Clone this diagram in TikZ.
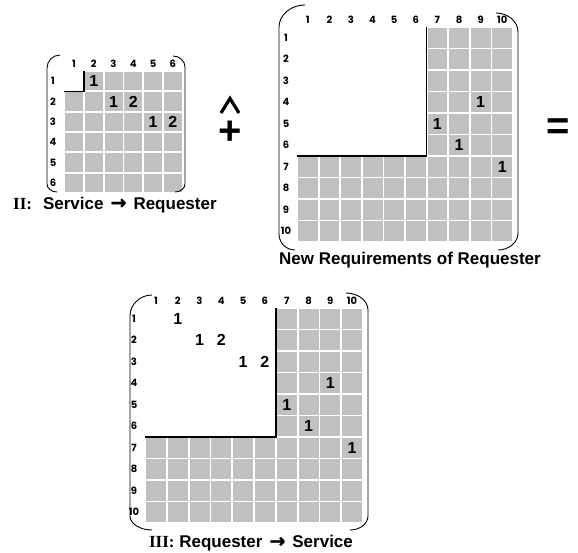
\documentclass[tikz,border=0pt]{standalone}
\usepackage{fontspec}
\setmainfont{Liberation Sans}
\newfontfamily\serifb{Liberation Serif}
\newfontfamily\lblf{Poppins}
\newfontfamily\arrf{DejaVu Sans}[FakeBold=1.6]
\definecolor{cellgray}{RGB}{192,192,192}
\newcommand\bigarr{\hspace{7pt}{\arrf\fontsize{19}{19}\selectfont →}\hspace{7pt}}
\tikzset{
  lbl/.style={font=\lblf\bfseries\fontsize{10}{10}\selectfont, inner sep=0pt},
  num/.style={font=\bfseries\fontsize{16}{16}\selectfont, inner sep=0pt},
  captxt/.style={font=\bfseries\fontsize{17}{17}\selectfont, inner sep=0pt, anchor=base},
  optxt/.style={font=\bfseries\fontsize{40}{40}\selectfont, inner sep=0pt, anchor=base},
  hatline/.style={draw=black, line width=3.2pt, line join=miter},
  brk/.style={draw=black, line width=0.9pt},
  lline/.style={draw=black, line width=1.5pt},
}
% #1 name, #2 x0, #3 y0, #4 n, #5 cw, #6 ch, #7 white block
\newcommand\mymat[7]{%
  \foreach \i in {1,...,#4}{%
    \foreach \j in {1,...,#4}{%
      \pgfmathtruncatemacro\inw{and(\i<=#7,\j<=#7)}%
      \ifnum\inw=0
        \fill[cellgray] ({#2+(\j-1)*#5+0.9},{#3+(\i-1)*#6+0.9}) rectangle ({#2+\j*#5-0.9},{#3+\i*#6-0.9});
      \fi
    }%
    \node[lbl] (#1c\i) at ({#2+(\i-0.5)*#5},{#3-7}) {\i};
    \node[lbl] (#1r\i) at ({#2-11},{#3+(\i-0.5)*#6}) {\i};
  }%
  \draw[lline] ({#2},{#3+#7*#6}) -- ({#2+#7*#5},{#3+#7*#6}) -- ({#2+#7*#5},{#3});
}
% name, x0, y0, cw, ch, row, col, text
\newcommand\cnum[8]{\node[num] (#1) at ({#2+(#7-0.5)*#4},{#3+(#6-0.5)*#5}) {#8};}
% x, ytop, ybot, rxt, ryt, rxb, ryb
\newcommand\lbrk[7]{\draw[brk] ({#1+#4},{#2}) .. controls ({#1+0.45*#4},{#2}) and ({#1},{#2+0.45*#5}) .. ({#1},{#2+#5}) -- ({#1},{#3-#7}) .. controls ({#1},{#3-0.45*#7}) and ({#1+0.45*#6},{#3}) .. ({#1+#6},{#3});}
\newcommand\rbrk[7]{\draw[brk] ({#1-#4},{#2}) .. controls ({#1-0.45*#4},{#2}) and ({#1},{#2+0.45*#5}) .. ({#1},{#2+#5}) -- ({#1},{#3-#7}) .. controls ({#1},{#3-0.45*#7}) and ({#1-0.45*#6},{#3}) .. ({#1-#6},{#3});}
\begin{document}
\begin{tikzpicture}[x=1pt,y=-1pt]
\useasboundingbox (0,0) rectangle (578,552);
\fill[white] (0,0) rectangle (578,552);

% ---------- Matrix II (small) ----------
\mymat{S}{64}{71}{6}{19.8}{20.33}{1}
\cnum{S12}{64}{71}{19.8}{20.33}{1}{2}{1}
\cnum{S23}{64}{71}{19.8}{20.33}{2}{3}{1}
\cnum{S24}{64}{71}{19.8}{20.33}{2}{4}{2}
\cnum{S35}{64}{71}{19.8}{20.33}{3}{5}{1}
\cnum{S36}{64}{71}{19.8}{20.33}{3}{6}{2}
\lbrk{47}{55}{192}{13}{13}{10}{8}
\rbrk{185}{56}{192}{12}{11}{10}{8}
\node[captxt, anchor=base west] (capS) at (13,209) {{\serifb II:}\hspace{11pt}Service\bigarr Requester};

% ---------- operators ----------
\coordinate (hatL) at (221,113);
\coordinate (hatT) at (230,98.5);
\coordinate (hatR) at (239,113);
\draw[hatline] (hatL) -- (hatT) -- (hatR);
\node[optxt] (plus) at (230,144) {+};
\node[optxt] (eq) at (558,139) {=};

% ---------- New requirements ----------
\mymat{N}{297}{27}{10}{21.6}{21.5}{6}
\cnum{N49}{297}{27}{21.6}{21.5}{4}{9}{1}
\cnum{N57}{297}{27}{21.6}{21.5}{5}{7}{1}
\cnum{N68}{297}{27}{21.6}{21.5}{6}{8}{1}
\cnum{N710}{297}{27}{21.6}{21.5}{7}{10}{1}
\lbrk{279}{5}{250}{26}{22}{16}{16}
\rbrk{518}{13}{250}{22}{19}{20}{17}
\node[captxt] (capN) at (410,264) {New Requirements of Requester};

% ---------- Matrix III ----------
\mymat{R}{145}{308}{10}{21.8}{21.5}{6}
\cnum{R12}{145}{308}{21.8}{21.5}{1}{2}{1}
\cnum{R23}{145}{308}{21.8}{21.5}{2}{3}{1}
\cnum{R24}{145}{308}{21.8}{21.5}{2}{4}{2}
\cnum{R35}{145}{308}{21.8}{21.5}{3}{5}{1}
\cnum{R36}{145}{308}{21.8}{21.5}{3}{6}{2}
\cnum{R49}{145}{308}{21.8}{21.5}{4}{9}{1}
\cnum{R57}{145}{308}{21.8}{21.5}{5}{7}{1}
\cnum{R68}{145}{308}{21.8}{21.5}{6}{8}{1}
\cnum{R710}{145}{308}{21.8}{21.5}{7}{10}{1}
\lbrk{130}{295}{530}{22}{21}{22}{14}
\rbrk{368}{293}{530}{22}{17}{18}{14}
\node[captxt] (capR) at (251,547.5) {{\serifb III:} Requester\bigarr Service};
\end{tikzpicture}
\end{document}
